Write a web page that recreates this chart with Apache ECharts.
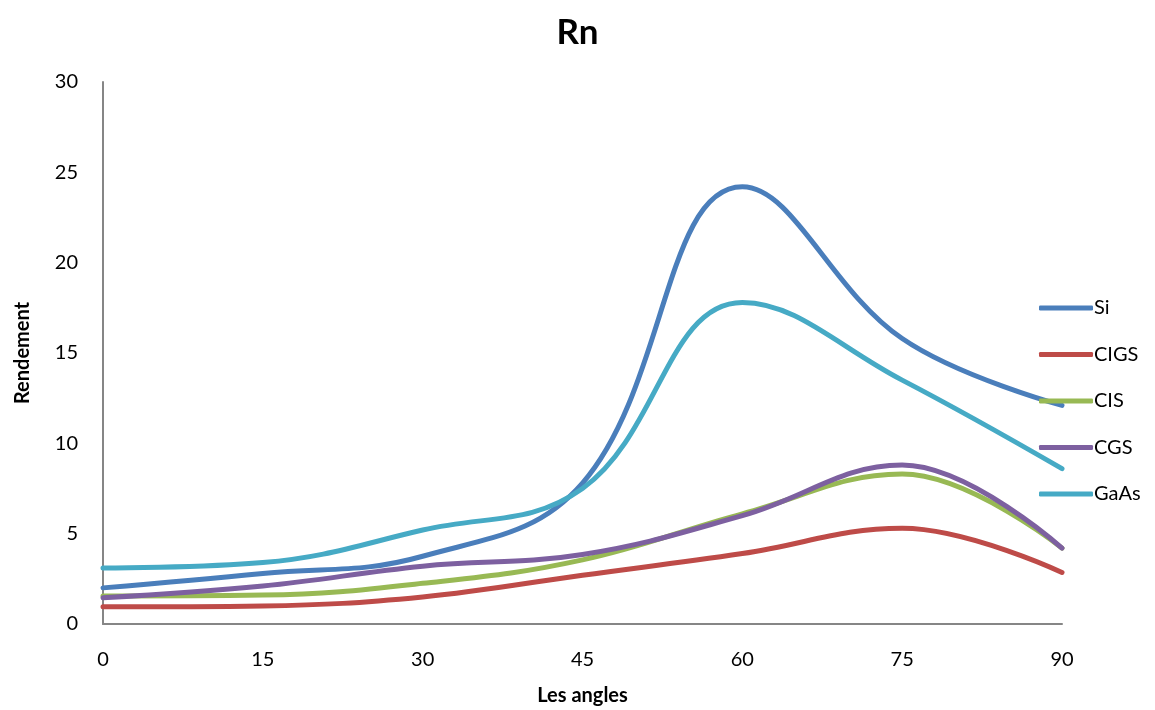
<!DOCTYPE html>
<html>
<head>
<meta charset="UTF-8"/>
<title>Rn</title>
<script src="https://cdn.jsdelivr.net/npm/echarts@6/dist/echarts.min.js" type="text/javascript"></script>
<style>
html, body { margin: 0; padding: 0; background: #fff; }
#placeholder { width: 1155px; height: 710px; }
</style>
</head>
<body>
<div id="placeholder"></div>
<script type="text/javascript">
// angles (x) and rendement values
var angles = [0, 15, 30, 45, 60, 75, 90];
var si   = [2.0, 2.8, 3.75, 7.8, 24.2, 15.8, 12.1];
var cigs = [0.95, 1.0, 1.5, 2.7, 3.9, 5.3, 2.85];
var cis  = [1.55, 1.6, 2.25, 3.55, 6.1, 8.3, 4.2];
var cgs  = [1.45, 2.1, 3.2, 3.85, 6.0, 8.8, 4.2];
var gaas = [3.1, 3.4, 5.2, 7.5, 17.8, 13.5, 8.6];
var names = ['Si', 'CIGS', 'CIS', 'CGS', 'GaAs'];
var colors = ['#4a7ebb', '#be4b48', '#98b954', '#7d60a0', '#46aac5'];

function pairs(vals) {
    var out = [];
    for (var i = 0; i < angles.length; i++) out.push([angles[i], vals[i]]);
    return out;
}

var myChart = echarts.init(document.getElementById('placeholder'));
var font = 'Lato, "Open Sans", sans-serif';
var allData = [si, cigs, cis, cgs, gaas];
var series = [];
for (var k = 0; k < names.length; k++) {
    series.push({
        name: names[k],
        type: 'line',
        smooth: 0.4,
        symbol: 'none',
        data: pairs(allData[k]),
        lineStyle: { width: 5, color: colors[k], cap: 'round' },
        itemStyle: { color: colors[k] }
    });
}

var option = {
    animation: false,
    textStyle: { fontFamily: font },
    title: {
        text: 'Rn',
        left: 'center',
        top: 10,
        textStyle: { fontSize: 35, fontWeight: 'bold', color: '#000', fontFamily: font }
    },
    legend: {
        orient: 'vertical',
        left: 1034,
        top: 293,
        icon: 'roundRect',
        itemWidth: 54,
        itemHeight: 5,
        itemGap: 26.5,
        data: names,
        textStyle: { fontSize: 20, color: '#000', padding: [0, 0, 0, -4] }
    },
    grid: { left: 103, right: 93, top: 82, bottom: 86, containLabel: false, outerBoundsMode: 'none' },
    xAxis: {
        type: 'value',
        min: 0,
        max: 90,
        interval: 15,
        name: 'Les angles',
        nameLocation: 'middle',
        nameGap: 62,
        nameTextStyle: { fontSize: 20, fontWeight: 'bold', color: '#000' },
        axisLine: { lineStyle: { color: '#868686', width: 2 } },
        axisTick: { show: false },
        splitLine: { show: false },
        axisLabel: { fontSize: 20, color: '#000', margin: 26 }
    },
    yAxis: {
        type: 'value',
        min: 0,
        max: 30,
        interval: 5,
        name: 'Rendement',
        nameLocation: 'middle',
        nameGap: 70,
        nameTextStyle: { fontSize: 20, fontWeight: 'bold', color: '#000' },
        axisLine: { show: true, lineStyle: { color: '#868686', width: 2 } },
        axisTick: { show: false },
        splitLine: { show: false },
        axisLabel: { fontSize: 20, color: '#000', margin: 25 }
    },
    series: series
};
if (option && typeof option === "object") {
    myChart.setOption(option, true);
}
</script>
</body>
</html>
